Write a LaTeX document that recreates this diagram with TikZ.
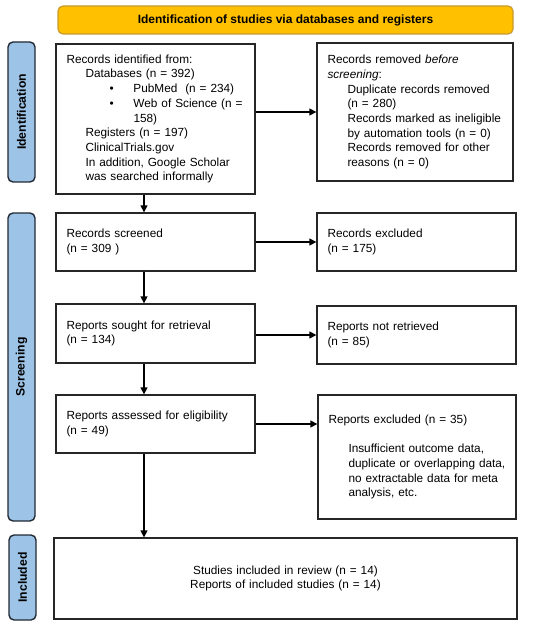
\documentclass[tikz,border=0pt]{standalone}
\usepackage{fontspec}
\setmainfont{Liberation Sans}
\usetikzlibrary{arrows.meta,calc}
\definecolor{hdr}{HTML}{FFC000}
\definecolor{hdrb}{HTML}{C99A2E}
\definecolor{bar}{HTML}{9DC3E6}
\definecolor{barb}{HTML}{222A35}
\definecolor{boxb}{HTML}{262626}
\begin{document}
\begin{tikzpicture}[x=1pt,y=-1pt,
  txt/.style={font=\fontsize{11.8}{14.7}\selectfont},
  box/.style={draw=boxb,line width=1.3pt,rectangle,inner xsep=10.5pt,inner ysep=0pt,align=left,txt},
  sidebar/.style={draw=barb,fill=bar,line width=1.4pt,rounded corners=5pt,minimum width=27pt,inner sep=0pt},
  sidetxt/.style={rotate=90,font=\fontsize{12.2}{14}\selectfont\bfseries},
  arr/.style={line width=1.4pt,-{Triangle[length=7pt,width=7pt]}}]
\useasboundingbox (0,0) rectangle (550,628);
\fill[white] (0,0) rectangle (550,628);
% header
\node[draw=hdrb,fill=hdr,line width=1.2pt,rounded corners=5pt,minimum width=455pt,minimum height=28pt,inner sep=0pt,font=\fontsize{12}{14}\selectfont\bfseries] (hdr) at (285.5,20) {Identification of studies via databases and registers};
% side bars
\node[sidebar,minimum height=140pt] (sb1) at (21.5,112) {};
\node[sidetxt] (sb1t) at (sb1.center) {Identification};
\node[sidebar,minimum height=308pt] (sb2) at (21.5,367) {};
\node[sidetxt] (sb2t) at (sb2.center) {Screening};
\node[sidebar,minimum height=85pt] (sb3) at (22.5,577.5) {};
\node[sidetxt] (sb3t) at (sb3.center) {Included};
% boxes
\node[box,text width=178pt,minimum height=150pt] (b1) at (155.5,119) {Records identified from:\\
\hspace*{19pt}Databases (n = 392)\\
\hspace*{43pt}\makebox[24pt][l]{•}PubMed\ \ (n = 234)\\
\hspace*{43pt}\makebox[24pt][l]{•}Web of Science (n =\\
\hspace*{67pt}158)\\
\hspace*{19pt}Registers (n = 197)\\
\hspace*{19pt}ClinicalTrials.gov\\
\hspace*{19pt}In addition, Google Scholar\\
\hspace*{19pt}was searched informally};
\node[box,text width=175pt,minimum height=138pt] (b2) at (415,112) {Records removed \textit{before}\\
\textit{screening}:\\
\hspace*{20pt}Duplicate records removed\\
\hspace*{20pt}(n = 280)\\
\hspace*{20pt}Records marked as ineligible\\
\hspace*{20pt}by automation tools (n = 0)\\
\hspace*{20pt}Records removed for other\\
\hspace*{20pt}reasons (n = 0)};
\node[box,text width=178pt,minimum height=58pt] (s1) at (155.5,242) {Records screened\\(n = 309 )};
\node[box,text width=178pt,minimum height=58pt] (s2) at (416.5,242) {Records excluded\\(n = 175)};
\node[box,text width=178pt,minimum height=59pt] (r1) at (155.5,333.5) {Reports sought for retrieval\\(n = 134)};
\node[box,text width=178pt,minimum height=58pt] (r2) at (416.5,335) {Reports not retrieved\\(n = 85)};
\node[box,text width=178pt,minimum height=58pt] (a1) at (155.5,424) {Reports assessed for eligibility\\(n = 49)};
\node[box,text width=177pt,minimum height=124pt] (a2) at (417,457) {Reports excluded (n = 35)\\[15pt]
\hspace*{20pt}Insufficient outcome data,\\
\hspace*{20pt}duplicate or overlapping data,\\
\hspace*{20pt}no extractable data for meta\\
\hspace*{20pt}analysis, etc.};
\node[box,align=center,text width=442pt,minimum height=81pt] (inc) at (285.5,578.5) {Studies included in review (n = 14)\\Reports of included studies (n = 14)};
% connectors
\coordinate (vx) at (144,0);
\draw[arr] (b1.east |- b2.west) -- (b2.west);
\draw[arr] (s1.east) -- (s2.west);
\draw[arr] (r1.east |- r2.west) -- (r2.west);
\draw[arr] (a1.east) -- (a1.east -| a2.west);
\draw[arr] (b1.south -| vx) -- (s1.north -| vx);
\draw[arr] (s1.south -| vx) -- (r1.north -| vx);
\draw[arr] (r1.south -| vx) -- (a1.north -| vx);
\draw[arr] (a1.south -| vx) -- (inc.north -| vx);
\end{tikzpicture}
\end{document}
